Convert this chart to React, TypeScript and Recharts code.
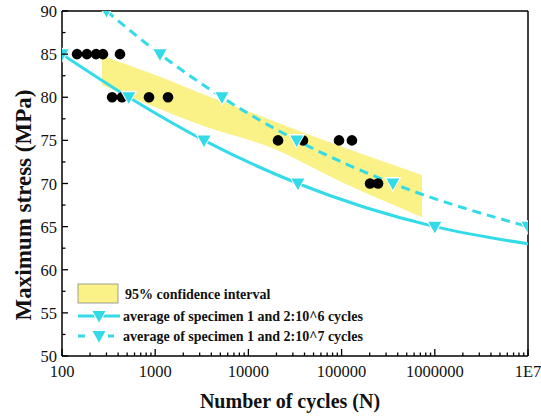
import { ComposedChart, Area, Line, Scatter, XAxis, YAxis, ReferenceLine } from 'recharts';

// fatigue data
const specimenCycles = [145, 185, 232, 275, 419, 345, 440, 858, 1372, 20800, 38500, 93800, 129000, 202000, 246000];
const specimenStress = [85, 85, 85, 85, 85, 80, 80, 80, 80, 75, 75, 75, 75, 70, 70];

const avg6Cycles = [100, 520, 3340, 34000, 1000000, 10000000];
const avg6Stress = [85, 80, 75, 70, 65, 63];

const avg7Cycles = [300, 1125, 5200, 33000, 355000, 10000000];
const avg7Stress = [90, 85, 80, 75, 70, 65];

const bandCycles = [269, 879, 3025, 17060, 103500, 730000];
const bandLow = [81.4, 79.1, 76.8, 74.2, 70.1, 66.1];
const bandHigh = [84.8, 82.8, 80.5, 77.4, 74.2, 71.0];

const xMajorTicks = [100, 1000, 10000, 100000, 1000000, 10000000];
const yTicks = [50, 52.5, 55, 57.5, 60, 62.5, 65, 67.5, 70, 72.5, 75, 77.5, 80, 82.5, 85, 87.5, 90];

const CYAN = '#33dbe8';
const YELLOW = '#faf187';
const FONT = '"Liberation Serif", "Times New Roman", serif';

const band = bandCycles.map((n, i) => ({ n, range: [bandLow[i], bandHigh[i]] }));
const specimens = specimenCycles.map((n, i) => ({ n, s: specimenStress[i] }));
const avg6 = avg6Cycles.map((n, i) => ({ n, s: avg6Stress[i] }));
const avg7 = avg7Cycles.map((n, i) => ({ n, s: avg7Stress[i] }));

// minor ticks at 2..9 of every decade
const xTicks: number[] = [];
xMajorTicks.forEach((d, i) => {
  xTicks.push(d);
  if (i < xMajorTicks.length - 1) for (let k = 2; k <= 9; k++) xTicks.push(d * k);
});

const tickText = { fontSize: 16.5, fontFamily: FONT, fill: '#111' };

function Tri({ cx, cy }: { cx: number; cy: number }) {
  return (
    <g>
      <path d={`M${cx - 8.5},${cy - 6.5} L${cx + 8.5},${cy - 6.5} L${cx},${cy + 8.5} Z`} fill="#fff" />
      <path d={`M${cx - 6.5},${cy - 5} L${cx + 6.5},${cy - 5} L${cx},${cy + 6.5} Z`} fill={CYAN} />
    </g>
  );
}

function YTick(props: any) {
  const { x, y, payload } = props;
  const major = payload.value % 5 === 0;
  return (
    <g>
      <line x1={x} x2={x + (major ? 6 : 3.5)} y1={y} y2={y} stroke="#000" strokeWidth={1.3} />
      {major && (
        <text x={x - 5} y={y} dy={6} textAnchor="end" style={tickText}>
          {payload.value}
        </text>
      )}
    </g>
  );
}

function XTick(props: any) {
  const { x, y, payload } = props;
  const v = payload.value;
  const major = xMajorTicks.includes(v);
  return (
    <g>
      <line x1={x} x2={x} y1={y} y2={y - (major ? 7 : 3.5)} stroke="#000" strokeWidth={1.3} />
      {major && (
        <text x={x} y={y + 21} textAnchor="middle" style={tickText}>
          {v === 10000000 ? '1E7' : String(v)}
        </text>
      )}
    </g>
  );
}

function YTitle() {
  return (
    <text transform="translate(31,205) rotate(-90)" textAnchor="middle" style={{ fontSize: 23, fontWeight: 'bold', fontFamily: FONT, fill: '#111' }}>
      Maximum stress (MPa)
    </text>
  );
}

function XTitle() {
  return (
    <text x={290} y={408} textAnchor="middle" style={{ fontSize: 20, fontWeight: 'bold', fontFamily: FONT, fill: '#111' }}>
      Number of cycles (N)
    </text>
  );
}

function LegendBox() {
  const txt = { fontSize: 14, fontWeight: 'bold' as const, fontFamily: FONT, fill: '#111' };
  return (
    <svg width={340} height={70} style={{ display: 'block' }}>
      <rect x={3} y={2} width={40} height={19} fill={YELLOW} stroke="#888" strokeWidth={0.8} />
      <text x={50} y={17} style={txt}>95% confidence interval</text>
      <line x1={3} x2={45} y1={34} y2={34} stroke={CYAN} strokeWidth={3} />
      <Tri cx={24} cy={34} />
      <text x={48} y={39} style={txt}>average of specimen 1 and 2:10^6 cycles</text>
      <line x1={3} x2={10} y1={54} y2={54} stroke={CYAN} strokeWidth={3} />
      <line x1={33} x2={39} y1={54} y2={54} stroke={CYAN} strokeWidth={3} />
      <Tri cx={24} cy={54} />
      <text x={48} y={59} style={txt}>average of specimen 1 and 2:10^7 cycles</text>
    </svg>
  );
}

export default function App() {
  return (
    <div style={{ position: 'absolute', left: 0, top: 0, width: 541, height: 416, background: '#fff' }}>
      <ComposedChart width={541} height={416} data={band} margin={{ top: 11, right: 13, bottom: 0, left: 0 }}>
        <XAxis
          dataKey="n"
          type="number"
          scale="log"
          domain={[100, 10000000]}
          allowDataOverflow
          ticks={xTicks}
          interval={0}
          tick={<XTick />}
          tickLine={false}
          tickSize={0}
          tickMargin={0}
          height={60}
          axisLine={{ stroke: '#000', strokeWidth: 1.5 }}
          label={<XTitle />}
        />
        <YAxis
          type="number"
          domain={[50, 90]}
          allowDataOverflow
          ticks={yTicks}
          interval={0}
          tick={<YTick />}
          tickLine={false}
          tickSize={0}
          tickMargin={0}
          width={62}
          axisLine={{ stroke: '#000', strokeWidth: 1.5 }}
          label={<YTitle />}
        />
        <ReferenceLine y={90} stroke="#000" strokeWidth={1.5} />
        <ReferenceLine x={10000000} stroke="#000" strokeWidth={1.5} />
        <Area
          type="monotone"
          dataKey="range"
          fill={YELLOW}
          fillOpacity={1}
          stroke="none"
          isAnimationActive={false}
          activeDot={false}
        />
        <Scatter
          data={specimens}
          dataKey="s"
          fill="#000"
          isAnimationActive={false}
          shape={(p: any) => <circle cx={p.cx} cy={p.cy} r={5.3} fill="#000" />}
        />
        <Line
          data={avg6}
          dataKey="s"
          type="monotone"
          stroke={CYAN}
          strokeWidth={3}
          isAnimationActive={false}
          activeDot={false}
          dot={(p: any) =>
            p.index === avg6.length - 1 ? <g key={p.key} /> : <Tri key={p.key} cx={p.cx} cy={p.cy} />
          }
        />
        <Line
          data={avg7}
          dataKey="s"
          type="monotone"
          stroke={CYAN}
          strokeWidth={3}
          strokeDasharray="9 6"
          isAnimationActive={false}
          activeDot={false}
          dot={(p: any) => <Tri key={p.key} cx={p.cx} cy={p.cy} />}
        />
      </ComposedChart>
      <div style={{ position: 'absolute', left: 75, top: 282 }}>
        <LegendBox />
      </div>
    </div>
  );
}
